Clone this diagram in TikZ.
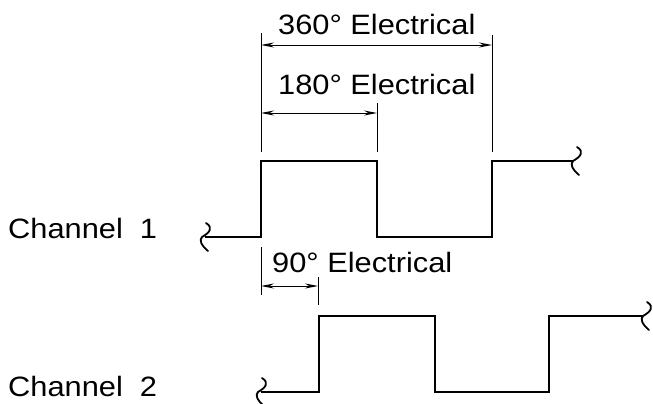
\documentclass[tikz,border=0pt]{standalone}
\usepackage{fontspec}
\setmainfont{Liberation Sans}[FakeStretch=1.1]
\usetikzlibrary{arrows.meta}
\begin{document}
\begin{tikzpicture}[x=1pt,y=-1pt,
  wave/.style={line width=2.4pt,line join=miter},
  dimline/.style={line width=0.9pt,{Stealth[length=13pt,width=5pt]}-{Stealth[length=13pt,width=5pt]}},
  extline/.style={line width=0.9pt},
  lbl/.style={anchor=base west,inner sep=0pt,font=\fontsize{28}{30}\selectfont},
  brk/.pic={\draw[line width=1.8pt,line cap=round] (1,-14) .. controls (9,-9) and (4,-4) .. (-3,0) .. controls (-6,3) and (-4,8) .. (3,14);}]
\useasboundingbox (0,0) rectangle (653,404);
% labels
\node[lbl] (ch1) at (8,238) {Channel\ \ 1};
\node[lbl] (ch2) at (8,396) {Channel\ \ 2};
\node[lbl] (t360) at (278,35) {360°\ Electrical};
\node[lbl] (t180) at (278,95) {180°\ Electrical};
\node[lbl] (t90) at (272,272) {90°\ Electrical};
% channel 1 waveform
\coordinate (a0) at (205,237);
\coordinate (a1) at (261,237);
\coordinate (a2) at (261,161);
\coordinate (a3) at (377,161);
\coordinate (a4) at (377,237);
\coordinate (a5) at (492,237);
\coordinate (a6) at (492,161);
\coordinate (a7) at (573,161);
\draw[wave] (a0) -- (a1) -- (a2) -- (a3) -- (a4) -- (a5) -- (a6) -- (a7);
\pic at (205,237) {brk};
\pic at (576,161) {brk};
% channel 2 waveform
\coordinate (b0) at (261,392);
\coordinate (b1) at (319,392);
\coordinate (b2) at (319,316);
\coordinate (b3) at (435,316);
\coordinate (b4) at (435,392);
\coordinate (b5) at (549,392);
\coordinate (b6) at (549,316);
\coordinate (b7) at (643,316);
\draw[wave] (b0) -- (b1) -- (b2) -- (b3) -- (b4) -- (b5) -- (b6) -- (b7);
\pic at (261,392) {brk};
\pic at (646,316) {brk};
% extension lines
\coordinate (e1t) at (261,33);
\coordinate (e1b) at (261,152);
\coordinate (e2t) at (377,103);
\coordinate (e2b) at (377,152);
\coordinate (e3t) at (492,35);
\coordinate (e3b) at (492,152);
\coordinate (e4t) at (261,247);
\coordinate (e4b) at (261,295);
\coordinate (e5t) at (318,277);
\coordinate (e5b) at (318,305);
\draw[extline] (e1t) -- (e1b);
\draw[extline] (e2t) -- (e2b);
\draw[extline] (e3t) -- (e3b);
\draw[extline] (e4t) -- (e4b);
\draw[extline] (e5t) -- (e5b);
% dimension arrows
\coordinate (d1l) at (261,45);
\coordinate (d1r) at (492,45);
\coordinate (d2l) at (261,113);
\coordinate (d2r) at (377,113);
\coordinate (d3l) at (261,286);
\coordinate (d3r) at (318,286);
\draw[dimline] (d1l) -- (d1r);
\draw[dimline] (d2l) -- (d2r);
\draw[dimline] (d3l) -- (d3r);
\end{tikzpicture}
\end{document}
